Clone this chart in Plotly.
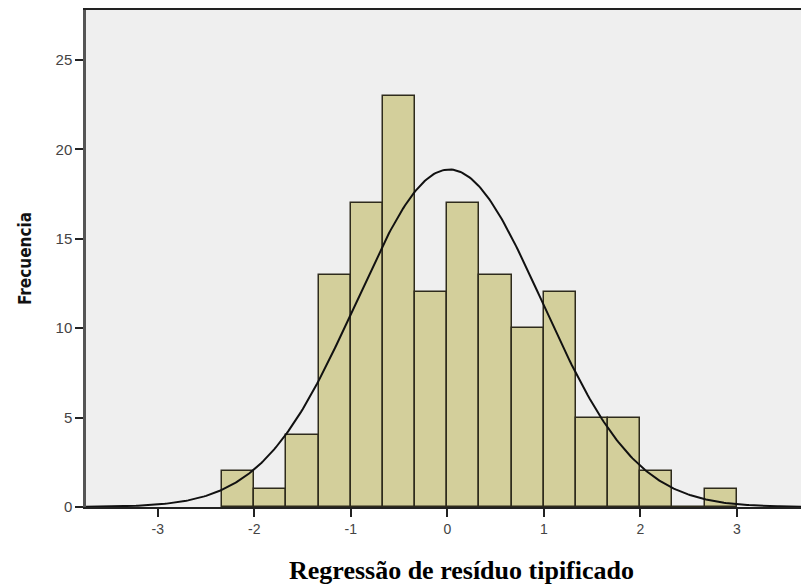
import numpy as np
import plotly.graph_objects as go

# Histogram data (standardized residuals)
bin_left_edges = [-7/3, -2, -5/3, -4/3, -1, -2/3, -1/3, 0, 1/3, 2/3, 1, 4/3, 5/3, 2, 7/3, 8/3]
counts = [2, 1, 4, 13, 17, 23, 12, 17, 13, 10, 12, 5, 5, 2, 0, 1]
bin_width = 1/3
x_ticks = [-3, -2, -1, 0, 1, 2, 3]
y_ticks = [0, 5, 10, 15, 20, 25]
mean_val = 0.02
sd_val = 0.965

n_total = sum(counts)
centers = [e + bin_width / 2 for e in bin_left_edges]

x_min, x_max = -3.744, 3.665
xs = np.linspace(x_min, x_max, 400)
ys = n_total * bin_width / (sd_val * np.sqrt(2 * np.pi)) * np.exp(-0.5 * ((xs - mean_val) / sd_val) ** 2)

fig = go.Figure()
fig.add_trace(go.Bar(
    x=centers, y=counts, width=[bin_width] * len(counts),
    marker=dict(color="#d3cf9b", line=dict(color="#2e2b1c", width=1.5)),
    hoverinfo="skip",
))
fig.add_trace(go.Scatter(
    x=xs, y=ys, mode="lines", line=dict(color="#111111", width=2),
    hoverinfo="skip",
))

fig.update_layout(
    width=801, height=586,
    margin=dict(l=86, r=0, t=10, b=79),
    paper_bgcolor="white", plot_bgcolor="#efefef",
    showlegend=False, bargap=0,
    font=dict(family="Liberation Sans, Arial, sans-serif", color="#333333", size=12),
    xaxis=dict(
        range=[x_min, x_max], tickvals=x_ticks, ticktext=[str(v) for v in x_ticks],
        showgrid=False, zeroline=False, showline=True, linecolor="#222222", linewidth=2,
        mirror=True, ticks="outside", ticklen=8, tickwidth=2, tickcolor="#222222",
        tickfont=dict(size=14, color="#444444"),
    ),
    yaxis=dict(
        range=[0, 27.8], tickvals=y_ticks,
        showgrid=False, zeroline=False, showline=True, linecolor="#555555", linewidth=2.5,
        ticks="outside", ticklen=8, tickwidth=2, tickcolor="#222222",
        tickfont=dict(size=15, color="#444444"),
        title=dict(text="<b>Frecuencia</b>", font=dict(family="DejaVu Sans Condensed, Liberation Sans Narrow, sans-serif", size=17, color="#111111"), standoff=20),
    ),
    annotations=[dict(
        text="<b>Regressão de resíduo tipificado</b>", xref="paper", yref="paper",
        x=(461 - 86) / 715, y=-(587 - 507) / 497, xanchor="center", yanchor="bottom",
        showarrow=False, font=dict(family="Liberation Serif, Times New Roman, serif", size=26, color="#000000"),
    )],
)

fig.write_html("out.html")
